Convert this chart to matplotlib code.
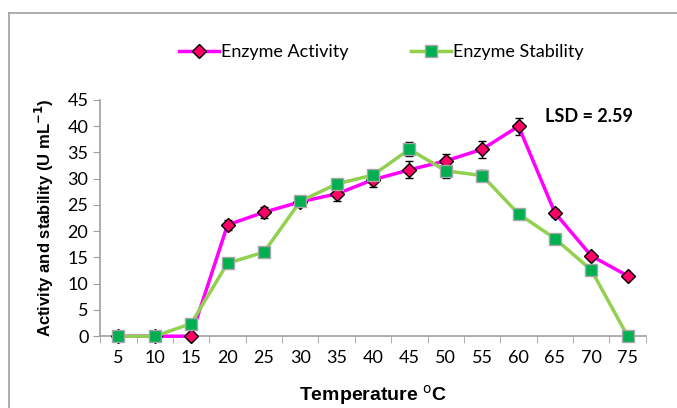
import matplotlib.pyplot as plt
from matplotlib.lines import Line2D

## Data
temperature = ["5", "10", "15", "20", "25", "30", "35", "40", "45", "50", "55", "60", "65", "70", "75"]
activity = [0, 0, 0, 21.2, 23.6, 25.6, 27.1, 29.8, 31.7, 33.4, 35.6, 40.0, 23.5, 15.3, 11.5]
activity_err = [0, 0, 0, 1.0, 1.0, 0.6, 1.3, 1.3, 1.6, 1.3, 1.6, 1.6, 0.8, 0.5, 0]
stability = [0, 0, 2.4, 13.9, 16.0, 25.7, 29.0, 30.7, 35.6, 31.5, 30.6, 23.3, 18.6, 12.6, 0]
stability_err = [0, 0, 0, 0, 0, 0.7, 0.7, 0.8, 1.3, 1.3, 1.0, 0, 0, 0, 0]
yticks = [0, 5, 10, 15, 20, 25, 30, 35, 40, 45]

x = list(range(len(temperature)))

plt.rcParams["font.family"] = ["Lato", "DejaVu Sans"]

fig = plt.figure(figsize=(6.77, 4.08), dpi=100)
ax = fig.add_axes([0.148, 0.176, 0.806, 0.579])

## outer frame (top and left edge only)
fig.add_artist(Line2D([0.013, 1.0], [0.968, 0.968], color="#a0a0a0", lw=1.2))
fig.add_artist(Line2D([0.013, 0.013], [0.0, 0.968], color="#a0a0a0", lw=1.2))

ax.errorbar(x, activity, yerr=activity_err, fmt="none", ecolor="black",
            elinewidth=1, capsize=3, capthick=1, zorder=2)
ax.errorbar(x, stability, yerr=stability_err, fmt="none", ecolor="black",
            elinewidth=1, capsize=3, capthick=1, zorder=2)

ax.plot(x, activity, color="#ff00ff", lw=2.5, marker="D", markersize=7,
        markerfacecolor="#ff0066", markeredgecolor="black", markeredgewidth=1,
        label="Enzyme Activity", zorder=3, clip_on=False)
ax.plot(x, stability, color="#92d050", lw=2.5, marker="s", markersize=9,
        markerfacecolor="#00b050", markeredgecolor="#a6a6a6", markeredgewidth=1,
        label="Enzyme Stability", zorder=4, clip_on=False)

ax.set_xlim(-0.5, len(temperature) - 0.5)
ax.set_ylim(0, 45)
ax.set_yticks(yticks)
ax.set_xticks(x)
ax.set_xticklabels(temperature)
ax.set_xticks([i - 0.5 for i in range(len(temperature) + 1)], minor=True)
ax.tick_params(axis="x", which="major", length=0, labelsize=13, pad=10)
ax.tick_params(axis="x", which="minor", length=5, color="#a0a0a0", direction="out")
ax.tick_params(axis="y", length=5, color="#a0a0a0", labelsize=13, direction="out")

for side in ["top", "right"]:
    ax.spines[side].set_visible(False)
for side in ["left", "bottom"]:
    ax.spines[side].set_color("#a0a0a0")
    ax.spines[side].set_linewidth(1.2)

ax.set_xlabel("Temperature $^{\\mathrm{o}}$C", fontsize=14, fontweight="bold",
              family="Liberation Sans", labelpad=12)
ax.set_ylabel("Activity and stability (U mL$^{\\mathbf{-1}}$)", fontsize=12,
              fontweight="bold", family="Liberation Sans", labelpad=8)

ax.text(0.815, 0.93, "LSD = 2.59", transform=ax.transAxes, fontsize=13,
        fontweight="bold", ha="left", va="center")

ax.legend(loc="lower center", bbox_to_anchor=(0.515, 1.1), ncol=2, frameon=False,
          fontsize=13, columnspacing=3.5, handlelength=2.2, handletextpad=0.1)

plt.savefig("out.png", dpi=100)
